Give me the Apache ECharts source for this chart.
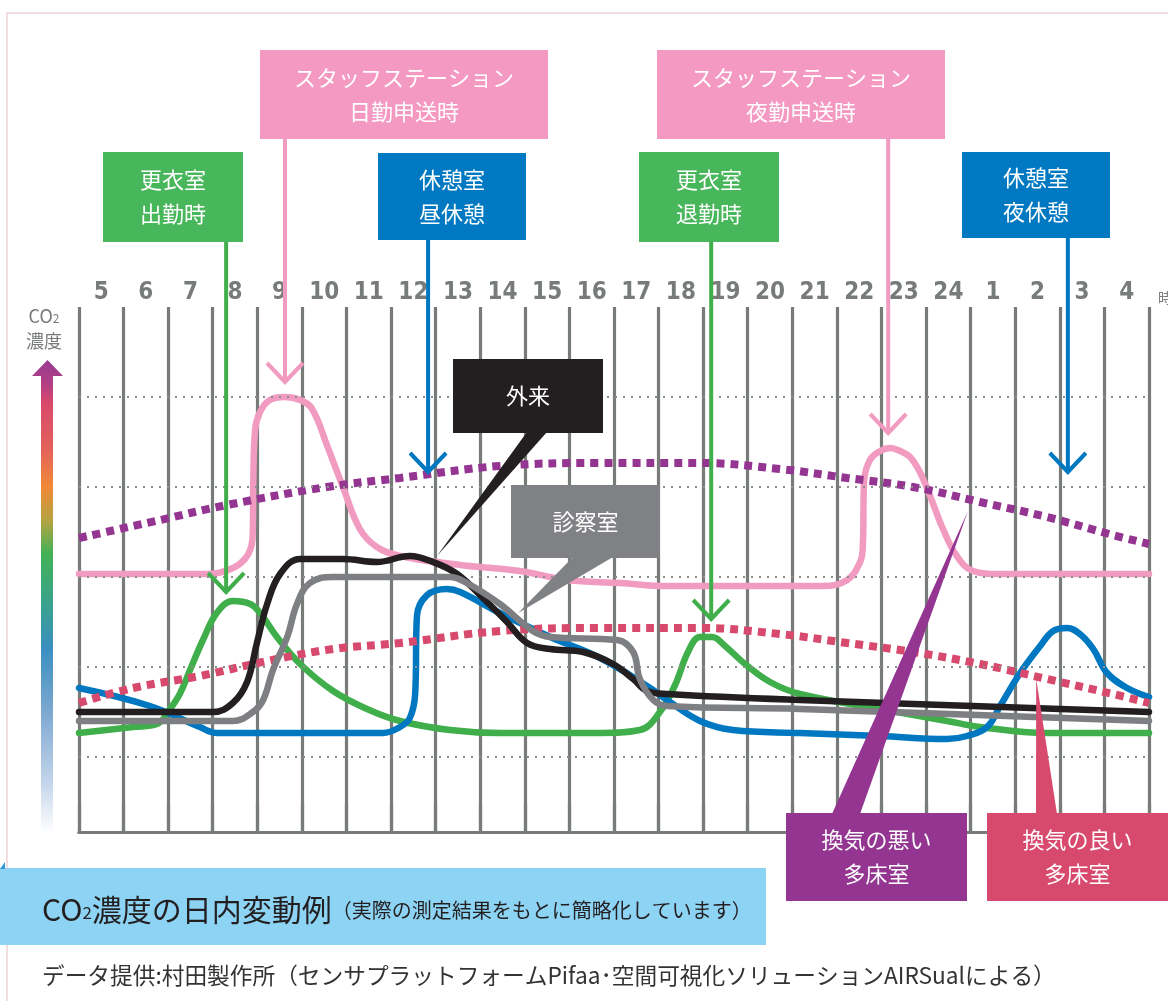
<!DOCTYPE html>
<html><head><meta charset="utf-8">
<script src="https://cdn.jsdelivr.net/npm/echarts@6/dist/echarts.min.js"></script>
<style>html,body{margin:0;padding:0;background:#fff;}#c{width:1168px;height:1001px;}</style>
</head><body><div id="c"></div>
<script>
// ---- data (x = hours since 5:00, y = relative CO2 level) ----
const hourLabels = ['5','6','7','8','9','10','11','12','13','14','15','16','17','18','19','20','21','22','23','24','1','2','3','4'];
const levelLines = [25, 55, 85, 115, 145];
const staffStation = [[0,86],[1.6,86],[2.9,86],[3.45,88],[3.72,91],[3.86,95],[3.9,101],[3.91,117],[3.95,134],[4.06,140],[4.28,144],[4.62,145],[4.96,144],[5.23,141],[5.56,129],[5.92,115],[6.3,101],[6.68,95],[7.2,92],[8.55,89],[9.89,87],[10.95,84],[12.14,83],[13.19,82],[14.83,82],[16.69,82],[17.23,84],[17.52,90],[17.58,95],[17.61,117],[17.74,124],[17.97,127],[18.19,128],[18.42,127],[18.64,125],[18.86,120],[19.09,112],[19.38,101],[19.69,92],[20.05,87],[20.59,86],[24,86]];
const lockerRoom = [[0,33],[1.21,35],[1.75,36],[2.04,41],[2.26,46],[2.49,54],[2.78,64],[3.09,73],[3.45,77],[3.84,76],[4.06,73],[4.44,65],[4.96,56],[5.7,47],[6.46,41],[7.2,37],[8.32,34],[9.44,33],[11.69,33],[12.58,34],[13.03,40],[13.37,49],[13.66,60],[13.93,65],[14.2,65],[14.49,62],[14.94,56],[15.5,50],[16.17,46],[17.97,41],[19.47,37],[20.21,35],[21.71,33],[24,33]];
const breakRoom = [[0,48],[1.59,42],[2.71,35],[3.1,33],[4.22,33],[6.82,33],[7.2,35],[7.42,38],[7.54,46],[7.58,72],[7.81,79],[8.25,81],[8.55,80],[9.44,73],[10.57,65],[11.69,58],[12.81,48],[13.19,44],[13.93,37],[14.67,34],[16.17,33],[17.97,32],[19.47,31],[19.92,32],[20.37,35],[20.66,42],[21.11,53],[21.56,62],[21.85,67],[22.16,68],[22.45,66],[22.75,61],[23.06,53],[23.51,48],[24,45]];
const outpatient = [[0,40],[3.01,40],[3.45,43],[3.77,50],[3.99,63],[4.22,76],[4.51,86],[4.96,91],[5.92,91],[6.68,90],[7.42,92],[7.94,90],[8.48,86],[9.06,78],[9.6,70],[10.05,63],[10.57,61],[11.31,60],[11.98,56],[12.43,51],[12.74,47],[13.19,46],[16.17,44],[24,40]];
const examRoom = [[0,37],[3.45,37],[3.9,40],[4.13,44],[4.35,54],[4.67,65],[4.89,76],[5.18,83],[5.7,85],[8.32,85],[8.7,83],[9.44,76],[10.18,67],[10.57,65],[12.07,64],[12.43,60],[12.58,51],[12.88,44],[13.19,42],[16.17,41],[24,37]];
const wardPoorVent = [[0,98],[1.82,104],[3.32,109],[5.56,115],[7.2,118],[9.44,122],[11.69,123],[13.93,123],[15.72,121],[17.23,118],[18.71,115],[20.21,110],[21.71,105],[23.19,99],[24,96]];
const wardGoodVent = [[0,43],[1.21,48],[2.71,52],[4.22,57],[5.7,61],[7.2,63],[9.44,67],[11.69,68],[13.93,68],[15.72,66],[17.23,63],[18.71,60],[20.21,56],[21.71,51],[23.19,46],[24,43]];
// annotation anchors (data units)
const tipLocker1 = [3.30, 80];
const tipStaff1 = [4.62, 150];
const tipBreak1 = [7.83, 120];
const tipLocker2 = [14.18, 71];
const tipStaff2 = [18.15, 133];
const tipBreak2 = [22.18, 120];
const tipOutpatient = [8.03, 92];
const tipExam = [9.85, 73];
const tipPoorVent = [19.94, 107];
const tipGoodVent = [21.47, 51];

// ---- styles ----
const GRID = '#787c79';
const C = {pink:'#f29bc1', green:'#3fae4b', blue:'#0078c1', black:'#231f20', gray:'#7e7f83', purple:'#933591', red:'#d8496e'};
const BOX = {pink:'#f399c2', green:'#48b75b', blue:'#0079c2', black:'#231f20', gray:'#808184', purple:'#933591', red:'#d8496e'};
const JP = "'Noto Sans CJK JP', 'Noto Sans', sans-serif";

const chart = echarts.init(document.getElementById('c'), null, {renderer:'canvas'});
function solid(name, data, color, z){
  return {name, type:'line', xAxisIndex:1, yAxisIndex:0, data, smooth:0.4, symbol:'none', silent:true, z,
    lineStyle:{color, width:6.5, cap:'round', join:'round'}};
}
function dotted(name, data, color, z){
  return {name, type:'line', xAxisIndex:1, yAxisIndex:0, data, smooth:0.4, symbol:'none', silent:true, z,
    lineStyle:{color, width:8, type:[8,6], cap:'butt'}};
}
const option = {
  animation:false,
  backgroundColor:'#fff',
  grid:{left:79, right:19, top:307, bottom:169, containLabel:false},
  xAxis:[
    {type:'category', data:hourLabels, position:'top', boundaryGap:true,
     axisLine:{show:true, lineStyle:{color:GRID, width:3.2}},
     axisTick:{show:true, length:29, inside:false, alignWithLabel:false, interval:0, lineStyle:{color:GRID, width:3.2}},
     axisLabel:{interval:0, margin:2, color:GRID, fontSize:24, fontWeight:'bold', fontFamily:"'Liberation Sans Narrow','DejaVu Sans Condensed',sans-serif"},
     splitLine:{show:true, interval:0, lineStyle:{color:GRID, width:3.2}}},
    {type:'value', min:0, max:24, position:'bottom',
     axisLine:{show:true, onZero:false, lineStyle:{color:GRID, width:3.2}},
     axisTick:{show:false}, axisLabel:{show:false}, splitLine:{show:false}}
  ],
  yAxis:{type:'value', min:0, max:175, axisLine:{show:false}, axisTick:{show:false}, axisLabel:{show:false}, splitLine:{show:false}},
  series:[
    {name:'levels', type:'line', xAxisIndex:1, yAxisIndex:0, data:[], silent:true, z:1,
     markLine:{silent:true, symbol:'none', label:{show:false}, animation:false,
       lineStyle:{color:'#8c8f8d', width:2, type:[2,6]}, data:levelLines.map(v=>({yAxis:v}))}},
    solid('スタッフステーション', staffStation, C.pink, 3),
    solid('更衣室', lockerRoom, C.green, 3),
    solid('休憩室', breakRoom, C.blue, 3),
    dotted('換気の良い多床室', wardGoodVent, C.red, 4),
    dotted('換気の悪い多床室', wardPoorVent, C.purple, 4),
    solid('外来', outpatient, C.black, 5),
    solid('診察室', examRoom, C.gray, 5)
  ]
};
chart.setOption(option);

const px = (pt) => chart.convertToPixel({seriesIndex:1}, pt);
const G = [];
function box(x, y, w, h, fill, text){
  G.push({type:'rect', z:100, shape:{x, y, width:w, height:h}, style:{fill}});
  G.push({type:'text', z:101, x:x+w/2, y:y+h/2, style:{text, fill:'#fff', fontSize:22, fontFamily:JP, align:'center', verticalAlign:'middle', lineHeight:34}});
}
function arrow(tip, topY, color){
  const p = px(tip);
  G.push({type:'line', z:99, shape:{x1:p[0], y1:topY, x2:p[0], y2:p[1]-1}, style:{stroke:color, lineWidth:4}});
  G.push({type:'polyline', z:99, shape:{points:[[p[0]-18,p[1]-19],[p[0],p[1]],[p[0]+18,p[1]-19]]}, style:{stroke:color, lineWidth:4, fill:null, lineJoin:'miter'}});
}
function pointer(tip, xa, xb, baseY, color){
  const p = px(tip);
  G.push({type:'polygon', z:99, shape:{points:[[xa,baseY],[xb,baseY],[p[0],p[1]]]}, style:{fill:color}});
}
// frame
G.push({type:'rect', z:0, shape:{x:7, y:13, width:1200, height:1100}, style:{fill:'none', stroke:'#f1dfe0', lineWidth:2}});
// arrows + callouts
arrow(tipLocker1, 242, C.green);
arrow(tipStaff1, 139, C.pink);
arrow(tipBreak1, 240, C.blue);
arrow(tipLocker2, 242, C.green);
arrow(tipStaff2, 139, C.pink);
arrow(tipBreak2, 238, C.blue);
pointer(tipOutpatient, 527, 547, 432, BOX.black);
pointer(tipExam, 573, 613, 557, BOX.gray);
pointer(tipPoorVent, 832, 860, 814, BOX.purple);
pointer(tipGoodVent, 1036, 1057, 814, BOX.red);
box(260, 50, 288, 89, BOX.pink, 'スタッフステーション\n日勤申送時');
box(657, 50, 288, 89, BOX.pink, 'スタッフステーション\n夜勤申送時');
box(103, 152, 140, 90, BOX.green, '更衣室\n出勤時');
box(639, 152, 140, 90, BOX.green, '更衣室\n退勤時');
box(378, 153, 148, 87, BOX.blue, '休憩室\n昼休憩');
box(962, 152, 148, 86, BOX.blue, '休憩室\n夜休憩');
box(453, 359, 150, 74, BOX.black, '外来');
box(511, 485, 149, 73, BOX.gray, '診察室');
box(786, 813, 181, 88, BOX.purple, '換気の悪い\n多床室');
box(987, 813, 181, 88, BOX.red, '換気の良い\n多床室');
// y axis label + gradient arrow
G.push({type:'text', z:100, x:44, y:316, style:{text:'{a|CO}{b|2}', align:'center', verticalAlign:'middle', rich:{a:{fontSize:18, fill:GRID, fontFamily:JP}, b:{fontSize:12, fill:GRID, fontFamily:JP, padding:[4,0,0,0]}}}});
G.push({type:'text', z:100, x:44, y:341, style:{text:'濃度', fill:GRID, fontSize:18, fontFamily:JP, align:'center', verticalAlign:'middle'}});
G.push({type:'polygon', z:100, shape:{points:[[32,376],[47.5,360],[63,376],[53,376],[53,833],[41,833],[41,376]]},
  style:{fill:new echarts.graphic.LinearGradient(0,0,0,1,[
    {offset:0, color:'#9a3a92'},{offset:0.05, color:'#b03f85'},{offset:0.09, color:'#d8496c'},{offset:0.19, color:'#e4625a'},
    {offset:0.27, color:'#f08a36'},{offset:0.34, color:'#b3a342'},{offset:0.41, color:'#42b156'},{offset:0.51, color:'#3aa38a'},
    {offset:0.61, color:'#3a8fc0'},{offset:0.75, color:'#80aad2'},{offset:0.89, color:'#c2d4ea'},{offset:1, color:'#ffffff'}])}});
G.push({type:'text', z:100, x:1158, y:298, style:{text:'時', fill:GRID, fontSize:14, fontFamily:JP, verticalAlign:'middle'}});
// title band
G.push({type:'rect', z:100, shape:{x:0, y:868, width:766, height:77}, style:{fill:'#8dd3f3'}});
G.push({type:'polygon', z:100, shape:{points:[[0,869],[5,862],[5,869]]}, style:{fill:'#2f9ad6'}});
G.push({type:'text', z:101, x:42, y:910, style:{text:'{a|CO}{b|2}{a|濃度の日内変動例}{d|（実際の測定結果をもとに簡略化しています）}', verticalAlign:'middle',
  rich:{a:{fontSize:30, fill:'#231f20', fontFamily:JP}, b:{fontSize:17, fill:'#231f20', fontFamily:JP, padding:[6,0,0,0]}, d:{fontSize:20, fill:'#231f20', fontFamily:JP}}}});
G.push({type:'text', z:100, x:42, y:975, style:{text:'データ提供:村田製作所（センサプラットフォームPifaa･空間可視化ソリューションAIRSualによる）', fill:'#333', fontSize:22.7, fontFamily:JP, verticalAlign:'middle'}});
chart.setOption({graphic:G});
</script></body></html>
